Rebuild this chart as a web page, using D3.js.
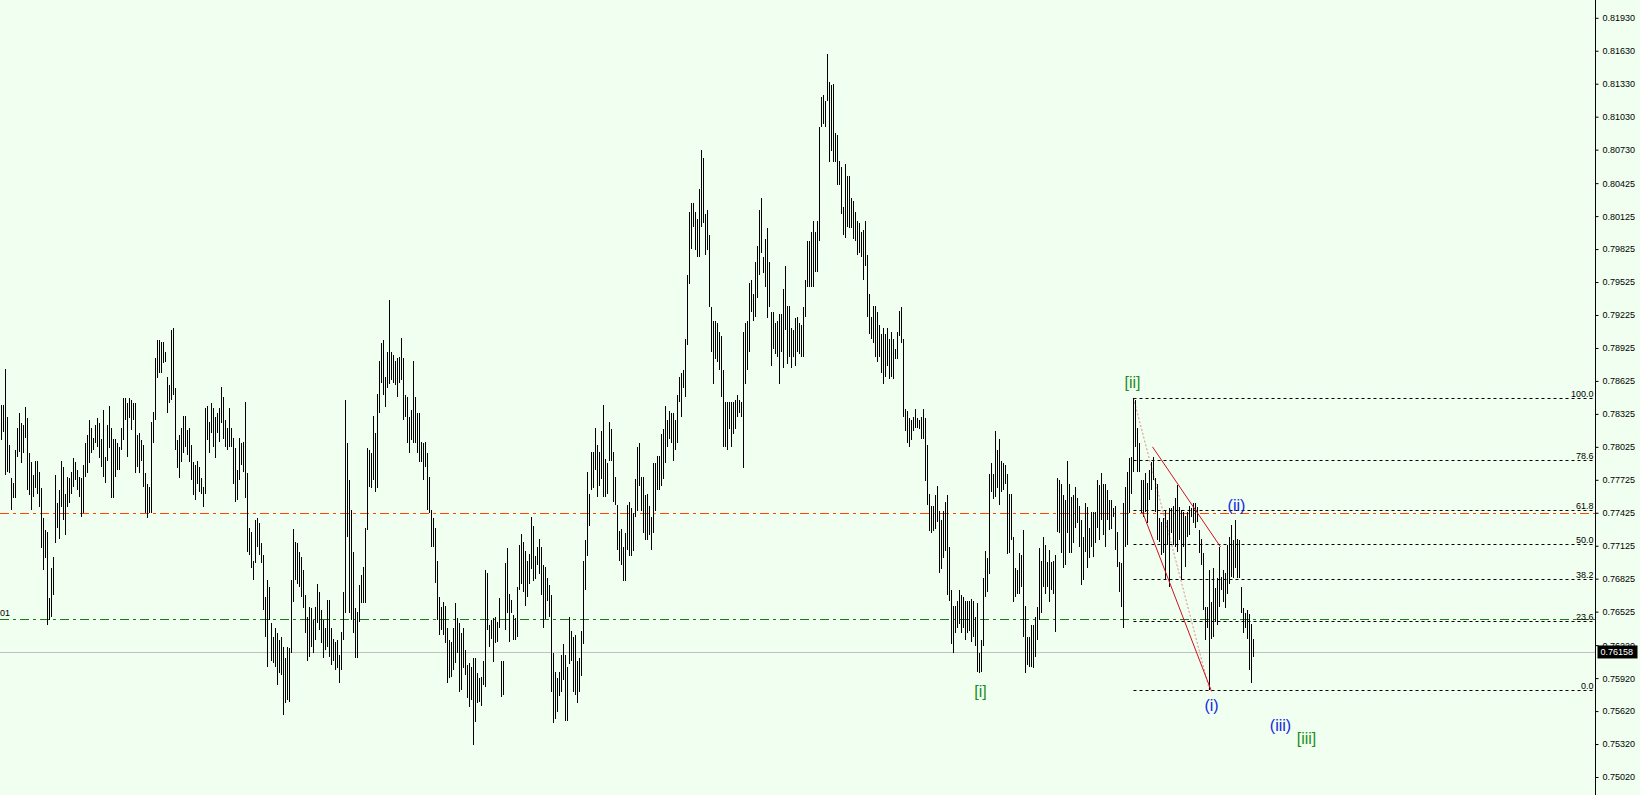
<!DOCTYPE html>
<html><head><meta charset="utf-8">
<script src="https://cdn.jsdelivr.net/npm/d3@7"></script>
<style>html,body{margin:0;padding:0;background:#f0fff0;overflow:hidden}svg{display:block}</style>
</head><body><svg id="c" width="1640" height="795"></svg>
<script>
// ---- data ----
const priceTickLabels = ["0.81930","0.81630","0.81330","0.81030","0.80730","0.80425","0.80125","0.79825","0.79525","0.79225","0.78925","0.78625","0.78325","0.78025","0.77725","0.77425","0.77125","0.76825","0.76525","0.76220","0.75920","0.75620","0.75320","0.75020"];

const highs = [
0.7841,0.7841,0.7873,0.7830,0.7804,0.7774,0.7770,0.7800,0.7820,0.7833,
0.7824,0.7822,0.7839,0.7829,0.7797,0.7789,0.7777,0.7790,0.7790,0.7780,
0.7765,0.7738,0.7727,0.7725,0.7665,0.7692,0.7702,0.7777,0.7751,0.7763,
0.7790,0.7784,0.7760,0.7775,0.7774,0.7780,0.7792,0.7789,0.7781,0.7775,
0.7774,0.7786,0.7806,0.7813,0.7827,0.7820,0.7811,0.7822,0.7829,0.7824,
0.7810,0.7836,0.7793,0.7822,0.7840,0.7820,0.7810,0.7810,0.7806,0.7802,
0.7820,0.7847,0.7847,0.7842,0.7847,0.7845,0.7842,0.7842,0.7813,0.7815,
0.7809,0.7804,0.7779,0.7769,0.7766,0.7825,0.7834,0.7883,0.7900,0.7900,
0.7898,0.7898,0.7889,0.7866,0.7859,0.7909,0.7911,0.7856,0.7809,0.7813,
0.7820,0.7831,0.7831,0.7818,0.7820,0.7804,0.7789,0.7786,0.7790,0.7784,
0.7774,0.7766,0.7838,0.7840,0.7825,0.7842,0.7838,0.7830,0.7833,0.7838,
0.7857,0.7848,0.7827,0.7820,0.7838,0.7820,0.7811,0.7801,0.7781,0.7811,
0.7806,0.7807,0.7843,0.7779,0.7729,0.7725,0.7699,0.7736,0.7738,0.7733,
0.7715,0.7704,0.7666,0.7681,0.7675,0.7642,0.7629,0.7638,0.7633,0.7627,
0.7629,0.7620,0.7610,0.7620,0.7619,0.7681,0.7728,0.7716,0.7715,0.7707,
0.7702,0.7690,0.7668,0.7648,0.7657,0.7656,0.7645,0.7657,0.7678,0.7670,
0.7654,0.7645,0.7638,0.7663,0.7663,0.7638,0.7628,0.7625,0.7627,0.7613,
0.7634,0.7670,0.7845,0.7806,0.7772,0.7745,0.7707,0.7656,0.7652,0.7677,
0.7686,0.7693,0.7729,0.7801,0.7800,0.7797,0.7831,0.7815,0.7851,0.7881,
0.7897,0.7900,0.7866,0.7889,0.7936,0.7889,0.7886,0.7881,0.7883,0.7884,
0.7902,0.7883,0.7850,0.7848,0.7830,0.7836,0.7881,0.7848,0.7833,0.7833,
0.7807,0.7806,0.7807,0.7797,0.7775,0.7745,0.7738,0.7729,0.7699,0.7666,
0.7657,0.7661,0.7658,0.7638,0.7627,0.7625,0.7638,0.7660,0.7647,0.7642,
0.7633,0.7638,0.7618,0.7604,0.7606,0.7602,0.7610,0.7610,0.7597,0.7592,
0.7593,0.7608,0.7690,0.7688,0.7640,0.7645,0.7647,0.7648,0.7643,0.7665,
0.7608,0.7608,0.7697,0.7710,0.7669,0.7663,0.7649,0.7647,0.7675,0.7713,
0.7723,0.7716,0.7708,0.7699,0.7705,0.7739,0.7730,0.7703,0.7711,0.7719,
0.7711,0.7695,0.7693,0.7683,0.7677,0.7668,0.7615,0.7598,0.7592,0.7598,
0.7613,0.7623,0.7613,0.7602,0.7648,0.7635,0.7629,0.7631,0.7608,0.7610,
0.7635,0.7699,0.7718,0.7780,0.7760,0.7798,0.7798,0.7820,0.7804,0.7798,
0.7817,0.7841,0.7791,0.7788,0.7825,0.7819,0.7798,0.7775,0.7750,0.7726,
0.7728,0.7711,0.7724,0.7750,0.7752,0.7747,0.7742,0.7773,0.7802,0.7806,
0.7775,0.7775,0.7759,0.7760,0.7749,0.7739,0.7788,0.7788,0.7794,0.7794,
0.7814,0.7819,0.7840,0.7827,0.7835,0.7833,0.7833,0.7827,0.7850,0.7866,
0.7870,0.7872,0.7901,0.7959,0.8016,0.8024,0.8024,0.8016,0.8010,0.8037,
0.8073,0.8065,0.8014,0.8018,0.7995,0.7930,0.7917,0.7917,0.7915,0.7907,
0.7903,0.7872,0.7843,0.7843,0.7843,0.7843,0.7843,0.7845,0.7850,0.7845,
0.7843,0.7907,0.7915,0.7917,0.7952,0.7954,0.7942,0.7971,0.7985,0.8018,
0.8029,0.7975,0.7992,0.8002,0.7971,0.7925,0.7925,0.7915,0.7917,0.7923,
0.7923,0.7946,0.7967,0.7931,0.7931,0.7911,0.7909,0.7920,0.7921,0.7915,
0.7913,0.7930,0.7954,0.7990,0.7990,0.7998,0.8008,0.7998,0.8008,0.8094,
0.8121,0.8123,0.8117,0.8160,0.8135,0.8132,0.8133,0.8088,0.8086,0.8063,
0.8057,0.8021,0.8060,0.8049,0.8049,0.8029,0.8026,0.8016,0.8008,0.8006,
0.7998,0.8000,0.8008,0.7977,0.7942,0.7921,0.7931,0.7931,0.7925,0.7913,
0.7905,0.7911,0.7905,0.7911,0.7901,0.7907,0.7901,0.7892,0.7907,0.7926,
0.7930,0.7901,0.7837,0.7835,0.7829,0.7827,0.7830,0.7837,0.7829,0.7827,
0.7830,0.7837,0.7829,0.7804,0.7760,0.7749,0.7749,0.7759,0.7767,0.7744,
0.7736,0.7744,0.7752,0.7759,0.7711,0.7672,0.7658,0.7658,0.7662,0.7672,
0.7668,0.7666,0.7662,0.7662,0.7662,0.7664,0.7662,0.7648,0.7660,0.7615,
0.7627,0.7683,0.7708,0.7701,0.7778,0.7788,0.7778,0.7817,0.7800,0.7810,
0.7790,0.7788,0.7786,0.7778,0.7760,0.7760,0.7720,0.7692,0.7690,0.7706,
0.7704,0.7727,0.7658,0.7629,0.7629,0.7640,0.7640,0.7648,0.7657,0.7710,
0.7699,0.7720,0.7713,0.7698,0.7709,0.7698,0.7699,0.7704,0.7774,0.7772,
0.7769,0.7759,0.7754,0.7790,0.7769,0.7757,0.7759,0.7766,0.7756,0.7749,
0.7736,0.7720,0.7751,0.7748,0.7729,0.7743,0.7743,0.7743,0.7772,0.7768,
0.7779,0.7769,0.7769,0.7763,0.7754,0.7754,0.7747,0.7749,0.7725,0.7698,
0.7697,0.7751,0.7766,0.7780,0.7792,0.7793,0.7847,0.7845,0.7820,0.7806,
0.7772,0.7772,0.7779,0.7770,0.7781,0.7789,0.7793,0.7774,0.7769,0.7738,
0.7734,0.7738,0.7745,0.7736,0.7747,0.7747,0.7749,0.7756,0.7768,0.7748,
0.7745,0.7743,0.7740,0.7743,0.7749,0.7747,0.7751,0.7751,0.7748,0.7727,
0.7719,0.7706,0.7657,0.7657,0.7690,0.7661,0.7692,0.7674,0.7683,0.7711,
0.7684,0.7690,0.7688,0.7713,0.7720,0.7731,0.7718,0.7736,0.7719,0.7718,
0.7675,0.7656,0.7651,0.7654,0.7650,0.7641,0.7628];

const lows = [
0.7809,0.7816,0.7777,0.7780,0.7779,0.7745,0.7756,0.7756,0.7793,0.7798,
0.7788,0.7797,0.7811,0.7763,0.7759,0.7745,0.7757,0.7765,0.7760,0.7748,
0.7710,0.7690,0.7701,0.7640,0.7645,0.7648,0.7668,0.7715,0.7729,0.7719,
0.7748,0.7736,0.7722,0.7748,0.7751,0.7760,0.7766,0.7772,0.7763,0.7757,
0.7739,0.7742,0.7775,0.7779,0.7788,0.7797,0.7800,0.7806,0.7802,0.7792,
0.7784,0.7775,0.7770,0.7790,0.7801,0.7756,0.7756,0.7775,0.7781,0.7781,
0.7800,0.7809,0.7827,0.7793,0.7829,0.7818,0.7827,0.7779,0.7784,0.7779,
0.7790,0.7766,0.7742,0.7738,0.7742,0.7742,0.7806,0.7827,0.7865,0.7870,
0.7870,0.7879,0.7880,0.7833,0.7842,0.7845,0.7850,0.7800,0.7783,0.7774,
0.7789,0.7797,0.7802,0.7795,0.7789,0.7772,0.7759,0.7754,0.7769,0.7761,
0.7760,0.7748,0.7760,0.7809,0.7797,0.7815,0.7802,0.7792,0.7815,0.7807,
0.7824,0.7810,0.7802,0.7800,0.7802,0.7802,0.7769,0.7752,0.7754,0.7772,
0.7786,0.7780,0.7756,0.7707,0.7704,0.7692,0.7681,0.7697,0.7711,0.7704,
0.7697,0.7654,0.7629,0.7602,0.7645,0.7608,0.7606,0.7602,0.7586,0.7597,
0.7595,0.7558,0.7569,0.7572,0.7570,0.7615,0.7661,0.7681,0.7678,0.7675,
0.7666,0.7656,0.7633,0.7608,0.7611,0.7620,0.7615,0.7627,0.7642,0.7636,
0.7624,0.7610,0.7618,0.7620,0.7611,0.7604,0.7608,0.7599,0.7601,0.7588,
0.7599,0.7627,0.7651,0.7720,0.7651,0.7645,0.7633,0.7610,0.7610,0.7643,
0.7660,0.7660,0.7660,0.7727,0.7766,0.7765,0.7772,0.7761,0.7765,0.7833,
0.7861,0.7850,0.7839,0.7856,0.7860,0.7863,0.7861,0.7859,0.7848,0.7861,
0.7863,0.7827,0.7830,0.7806,0.7797,0.7809,0.7806,0.7806,0.7797,0.7789,
0.7789,0.7772,0.7784,0.7745,0.7742,0.7711,0.7711,0.7679,0.7645,0.7631,
0.7636,0.7631,0.7624,0.7588,0.7592,0.7593,0.7599,0.7606,0.7615,0.7579,
0.7581,0.7601,0.7595,0.7574,0.7566,0.7572,0.7531,0.7552,0.7569,0.7570,
0.7567,0.7586,0.7584,0.7636,0.7620,0.7628,0.7607,0.7624,0.7625,0.7638,
0.7575,0.7577,0.7636,0.7651,0.7625,0.7651,0.7627,0.7627,0.7629,0.7672,
0.7678,0.7670,0.7658,0.7666,0.7678,0.7691,0.7680,0.7682,0.7695,0.7687,
0.7668,0.7638,0.7646,0.7662,0.7648,0.7579,0.7551,0.7555,0.7561,0.7576,
0.7579,0.7590,0.7553,0.7553,0.7605,0.7608,0.7579,0.7577,0.7569,0.7579,
0.7594,0.7623,0.7672,0.7703,0.7730,0.7763,0.7765,0.7781,0.7757,0.7767,
0.7773,0.7757,0.7757,0.7760,0.7790,0.7790,0.7752,0.7750,0.7709,0.7699,
0.7695,0.7680,0.7680,0.7709,0.7703,0.7703,0.7708,0.7739,0.7744,0.7767,
0.7744,0.7724,0.7718,0.7718,0.7722,0.7709,0.7724,0.7744,0.7763,0.7763,
0.7767,0.7773,0.7788,0.7802,0.7810,0.7806,0.7790,0.7800,0.7806,0.7843,
0.7830,0.7856,0.7848,0.7895,0.7951,0.7983,0.8003,0.7982,0.7975,0.7975,
0.8003,0.8006,0.7977,0.7982,0.7930,0.7889,0.7860,0.7882,0.7880,0.7872,
0.7848,0.7802,0.7802,0.7800,0.7819,0.7802,0.7814,0.7819,0.7830,0.7833,
0.7830,0.7783,0.7860,0.7872,0.7889,0.7925,0.7917,0.7921,0.7938,0.7959,
0.7979,0.7961,0.7948,0.7920,0.7930,0.7876,0.7892,0.7887,0.7884,0.7860,
0.7889,0.7874,0.7909,0.7878,0.7884,0.7874,0.7884,0.7876,0.7889,0.7887,
0.7884,0.7884,0.7921,0.7948,0.7948,0.7948,0.7948,0.7962,0.7962,0.7990,
0.8094,0.8096,0.8094,0.8117,0.8062,0.8072,0.8062,0.8062,0.8041,0.8041,
0.8014,0.7995,0.7993,0.8003,0.8002,0.8002,0.7992,0.7990,0.7977,0.7979,
0.7975,0.7954,0.7967,0.7921,0.7905,0.7901,0.7897,0.7884,0.7880,0.7884,
0.7870,0.7860,0.7866,0.7876,0.7864,0.7866,0.7864,0.7882,0.7882,0.7903,
0.7897,0.7830,0.7817,0.7806,0.7802,0.7809,0.7817,0.7820,0.7820,0.7819,
0.7810,0.7810,0.7771,0.7750,0.7726,0.7724,0.7726,0.7728,0.7734,0.7688,
0.7691,0.7701,0.7708,0.7668,0.7662,0.7623,0.7615,0.7633,0.7638,0.7641,
0.7633,0.7638,0.7627,0.7633,0.7635,0.7625,0.7629,0.7621,0.7598,0.7597,
0.7598,0.7621,0.7666,0.7670,0.7687,0.7761,0.7755,0.7757,0.7765,0.7750,
0.7761,0.7763,0.7769,0.7705,0.7706,0.7718,0.7661,0.7666,0.7669,0.7669,
0.7675,0.7629,0.7597,0.7604,0.7602,0.7602,0.7601,0.7611,0.7627,0.7645,
0.7651,0.7675,0.7669,0.7675,0.7661,0.7672,0.7669,0.7634,0.7725,0.7724,
0.7706,0.7692,0.7695,0.7724,0.7706,0.7706,0.7715,0.7729,0.7733,0.7711,
0.7677,0.7681,0.7707,0.7692,0.7701,0.7711,0.7702,0.7715,0.7729,0.7718,
0.7736,0.7722,0.7711,0.7736,0.7727,0.7728,0.7739,0.7709,0.7693,0.7670,
0.7657,0.7638,0.7711,0.7713,0.7742,0.7760,0.7780,0.7802,0.7780,0.7780,
0.7742,0.7739,0.7743,0.7733,0.7754,0.7763,0.7772,0.7743,0.7718,0.7716,
0.7704,0.7706,0.7681,0.7713,0.7675,0.7724,0.7713,0.7711,0.7707,0.7718,
0.7681,0.7711,0.7693,0.7720,0.7722,0.7739,0.7733,0.7729,0.7734,0.7706,
0.7695,0.7654,0.7627,0.7638,0.7581,0.7628,0.7629,0.7643,0.7640,0.7657,
0.7672,0.7661,0.7656,0.7669,0.7678,0.7684,0.7683,0.7692,0.7683,0.7683,
0.7651,0.7633,0.7638,0.7628,0.7599,0.7588,0.7611];

const lastPrice = 0.76158;
const resistanceLevel = 0.7742;   // orange-red dash-dot
const supportLevel = 0.76457;     // green dash-dot
const supportText = "01";         // visible tail of the level's caption
const fibHighIndex = 566, fibHighPrice = 0.7847;
const fibLowIndex = 604, fibLowPrice = 0.7581;
const fibLevels = [0, 23.6, 38.2, 50, 61.8, 78.6, 100];
const fibLevelLabels = ["0.0","23.6","38.2","50.0","61.8","78.6","100.0"];
const trendLines = [
  {i1:575.5, p1:0.78025, i2:609.5, p2:0.77115},
  {i1:570.5, p1:0.7743,  i2:605,   p2:0.7580}
];
const waveLabels = [
  {t:"[i]",   i:489.5, p:0.7580, g:"minor"},
  {t:"[ii]",  i:565.5, p:0.7861, g:"minor"},
  {t:"[iii]", i:652.5, p:0.7537, g:"minor"},
  {t:"(i)",   i:605,   p:0.7567, g:"sub"},
  {t:"(ii)",  i:617.5, p:0.7749, g:"sub"},
  {t:"(iii)", i:639.5, p:0.7549, g:"sub"}
];

// ---- drawing ----
const W = 1640, H = 795, AX = 1595.5;
const svg = d3.select("#c");
svg.append("rect").attr("width", W).attr("height", H).attr("fill", "#f0fff0");

const y = d3.scaleLinear().domain([0.75020, 0.81930]).range([777, 17.8]);
const x = d3.scaleLinear().domain([0, 797]).range([1.5, 1595.5]);
const font = "'Liberation Sans', Arial, sans-serif";

const plot = svg.append("g");

// current price line
plot.append("line").attr("x1", 0).attr("x2", AX).attr("y1", Math.round(y(lastPrice)) + 0.5).attr("y2", Math.round(y(lastPrice)) + 0.5)
  .attr("stroke", "#c0c0c0").attr("stroke-width", 1);

// horizontal dash-dot levels
plot.append("line").attr("x1", 0).attr("x2", AX).attr("y1", Math.round(y(resistanceLevel)) + 0.5).attr("y2", Math.round(y(resistanceLevel)) + 0.5)
  .attr("stroke", "#ff4500").attr("stroke-width", 1).attr("stroke-dasharray", "9,4,3,4");
plot.append("line").attr("x1", 0).attr("x2", AX).attr("y1", Math.round(y(supportLevel)) + 0.5).attr("y2", Math.round(y(supportLevel)) + 0.5)
  .attr("stroke", "#1a7a1a").attr("stroke-width", 1).attr("stroke-dasharray", "9,4,3,4");
plot.append("text").attr("x", 0).attr("y", y(supportLevel) - 3).attr("text-anchor", "start")
  .attr("font-family", font).attr("font-size", 9).attr("fill", "#000").text(supportText);

// fib levels
const fibScale = d3.scaleLinear().domain([0, 100]).range([fibLowPrice, fibHighPrice]);
const fibG = plot.append("g");
fibLevels.forEach((lv, k) => {
  const yy = Math.round(y(fibScale(lv))) + 0.5;
  fibG.append("line").attr("x1", x(fibHighIndex)).attr("x2", AX).attr("y1", yy).attr("y2", yy)
    .attr("stroke", "#000").attr("stroke-width", 1).attr("stroke-dasharray", "3,3");
  fibG.append("text").attr("x", AX - 2).attr("y", yy - 2).attr("text-anchor", "end")
    .attr("font-family", font).attr("font-size", 9).attr("fill", "#000").text(fibLevelLabels[k]);
});
// fib dotted trend
plot.append("line").attr("x1", x(fibHighIndex)).attr("y1", y(fibHighPrice)).attr("x2", x(fibLowIndex)).attr("y2", y(fibLowPrice))
  .attr("stroke", "#e08a8a").attr("stroke-width", 1).attr("stroke-dasharray", "2,2");

// bars
plot.append("g").selectAll("line").data(d3.range(highs.length)).join("line")
  .attr("x1", i => x(i)).attr("x2", i => x(i))
  .attr("y1", i => y(highs[i])).attr("y2", i => y(lows[i]))
  .attr("stroke", "#000").attr("stroke-width", 1).attr("shape-rendering", "crispEdges");

// trend lines
plot.append("g").selectAll("line").data(trendLines).join("line")
  .attr("x1", d => x(d.i1)).attr("y1", d => y(d.p1)).attr("x2", d => x(d.i2)).attr("y2", d => y(d.p2))
  .attr("stroke", "#d01020").attr("stroke-width", 1);

// wave labels
plot.append("g").selectAll("text").data(waveLabels).join("text")
  .attr("x", d => x(d.i)).attr("y", d => y(d.p)).attr("text-anchor", "middle").attr("dominant-baseline", "central")
  .attr("font-family", font).attr("font-size", 16)
  .attr("fill", d => d.g === "minor" ? "#1e8b1e" : "#1428e0").text(d => d.t);

// axis
svg.append("rect").attr("x", AX + 0.5).attr("y", 0).attr("width", W - AX).attr("height", H).attr("fill", "#f0fff0");
svg.append("line").attr("x1", AX).attr("x2", AX).attr("y1", 0).attr("y2", H).attr("stroke", "#000").attr("stroke-width", 1);
const axis = d3.axisRight(y).tickValues(priceTickLabels.map(Number)).tickFormat((d, i) => priceTickLabels[i]).tickSize(3).tickPadding(4);
const ag = svg.append("g").attr("transform", `translate(${AX},0)`).call(axis);
ag.select(".domain").remove();
ag.selectAll("text").attr("font-family", font).attr("font-size", 9).attr("fill", "#000");
ag.selectAll("line").attr("stroke", "#000");

// current price tag
const py = y(lastPrice);
svg.append("rect").attr("x", AX + 2).attr("y", py - 6.5).attr("width", 40).attr("height", 13).attr("fill", "#000");
svg.append("text").attr("x", AX + 5).attr("y", py).attr("dominant-baseline", "central")
  .attr("font-family", font).attr("font-size", 9).attr("fill", "#fff").text(lastPrice.toFixed(5));
</script></body></html>
